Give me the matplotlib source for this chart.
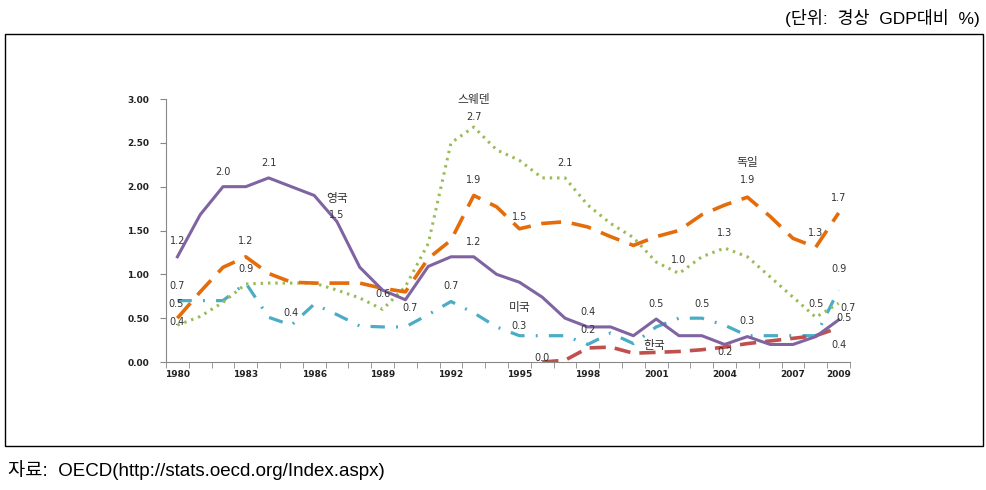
import numpy as np
import matplotlib.pyplot as plt
import matplotlib.patches as mpatches

plt.rcParams['font.family'] = ['Noto Sans CJK KR', 'DejaVu Sans']

years = list(range(1980, 2010))
uk = [1.2, 1.68, 2.0, 2.0, 2.1, 2.0, 1.9, 1.6, 1.08, 0.82, 0.71, 1.09, 1.2, 1.2, 1.0, 0.91,
      0.74, 0.5, 0.4, 0.4, 0.3, 0.49, 0.3, 0.3, 0.2, 0.29, 0.2, 0.2, 0.29, 0.48]
germany = [0.5, 0.8, 1.08, 1.2, 1.01, 0.91, 0.9, 0.9, 0.9, 0.84, 0.8, 1.18, 1.39, 1.9, 1.77, 1.52,
           1.58, 1.6, 1.54, 1.43, 1.33, 1.43, 1.5, 1.68, 1.79, 1.88, 1.66, 1.41, 1.31, 1.7]
sweden = [0.42, 0.52, 0.68, 0.89, 0.9, 0.9, 0.9, 0.82, 0.73, 0.6, 0.86, 1.35, 2.5, 2.68, 2.42, 2.3,
          2.1, 2.1, 1.79, 1.58, 1.42, 1.14, 1.01, 1.2, 1.3, 1.2, 0.97, 0.74, 0.51, 0.67]
usa = [0.7, 0.7, 0.7, 0.9, 0.51, 0.42, 0.66, 0.54, 0.41, 0.4, 0.4, 0.54, 0.69, 0.56, 0.4, 0.3,
       0.3, 0.3, 0.2, 0.33, 0.21, 0.4, 0.5, 0.5, 0.42, 0.3, 0.3, 0.3, 0.3, 0.82]
korea_years = list(range(1996, 2010))
korea = [0.0, 0.02, 0.16, 0.17, 0.1, 0.11, 0.12, 0.14, 0.17, 0.21, 0.24, 0.27, 0.3, 0.39]

tick_years = [1980, 1983, 1986, 1989, 1992, 1995, 1998, 2001, 2004, 2007, 2009]

# label text, x (year), y (value)
labels = [
    ('1.2', 1980, 1.38), ('2.0', 1982, 2.17), ('2.1', 1984, 2.27), ('1.5', 1987, 1.68),
    ('0.7', 1980, 0.87), ('0.5', 1979.95, 0.66), ('0.4', 1980, 0.46),
    ('1.2', 1983, 1.38), ('0.9', 1983, 1.06), ('0.4', 1985, 0.56),
    ('0.6', 1989, 0.78), ('0.7', 1990.2, 0.62),
    ('2.7', 1993, 2.79), ('1.9', 1993, 2.08), ('1.2', 1993, 1.37), ('0.7', 1992, 0.87),
    ('0.3', 1995, 0.41), ('1.5', 1995, 1.65), ('2.1', 1997, 2.27), ('0.0', 1996, 0.05),
    ('0.4', 1998, 0.57), ('0.2', 1998, 0.36), ('1.0', 2002, 1.16), ('0.5', 2001, 0.66),
    ('0.5', 2003, 0.66), ('1.3', 2004, 1.47), ('0.3', 2005, 0.47), ('0.2', 2004, 0.11),
    ('1.9', 2005, 2.08), ('1.3', 2008, 1.47), ('1.7', 2009, 1.87), ('0.9', 2009, 1.06),
    ('0.5', 2008, 0.66), ('0.7', 2009.4, 0.62), ('0.5', 2009.25, 0.5), ('0.4', 2009, 0.19),
]
names = [('영국', 1987, 1.87), ('스웨덴', 1993, 3.0), ('미국', 1995, 0.62),
         ('한국', 2000.9, 0.19), ('독일', 2005, 2.27)]

fig = plt.figure(figsize=(9.87, 4.90), dpi=100)
ax = fig.add_axes([166/987, 128/490, 684/987, 263/490])

ax.plot(years, usa, color='#4BACC6', lw=2.3, dashes=(4.5, 3.5, 0.6, 3.5), zorder=2)
ax.plot(korea_years, korea, color='#C0504D', lw=2.6, dashes=(4.5, 2.5), zorder=2)
ax.plot(years, sweden, color='#9BBB59', lw=2.2, linestyle=(0, (0.8, 1.6)), zorder=3)
ax.plot(years, germany, color='#E46C0A', lw=2.6, dashes=(5.5, 3), zorder=3)
ax.plot(years, uk, color='#8064A2', lw=2.2, zorder=4)

for t, x, y in labels:
    ax.text(x, y, t, ha='center', va='center', fontsize=7, color='#333333',
            family='DejaVu Sans', zorder=5)
for t, x, y in names:
    ax.text(x, y, t, ha='center', va='center', fontsize=8.5, color='#333333', zorder=5)

ax.set_xlim(1979.5, 2009.5)
ax.set_ylim(0, 3)
ax.set_yticks(np.arange(0, 3.01, 0.5))
ax.set_yticklabels(['%.2f' % v for v in np.arange(0, 3.01, 0.5)])
ax.set_xticks(tick_years)
ax.set_xticklabels([str(y) for y in tick_years])
ax.set_xticks(np.arange(1979.5, 2010, 1), minor=True)
ax.tick_params(axis='x', which='major', length=0, pad=6)
ax.tick_params(axis='x', which='minor', length=4, color='#888888')
ax.tick_params(axis='y', length=4, color='#888888', pad=8)
for lab in ax.get_xticklabels() + ax.get_yticklabels():
    lab.set_fontsize(6.5)
    lab.set_fontweight('bold')
    lab.set_family('DejaVu Sans')
    lab.set_color('#222222')
for s in ['top', 'right']:
    ax.spines[s].set_visible(False)
for s in ['left', 'bottom']:
    ax.spines[s].set_color('#888888')
ax.patch.set_alpha(0)

frame = mpatches.Rectangle((5/987, 1 - 446/490), 978/987, 412/490, transform=fig.transFigure,
                           fill=False, edgecolor='black', lw=1)
fig.patches.append(frame)

fig.text(980/987, 1 - 18/490, '(단위:  경상  GDP대비  %)', ha='right', va='center',
         fontsize=12.5, family=['Liberation Sans', 'Noto Sans CJK KR'])
fig.text(8/987, 1 - 470/490, '자료:  OECD(http://stats.oecd.org/Index.aspx)', ha='left',
         va='center', fontsize=13.5, family=['Liberation Sans', 'Noto Sans CJK KR'])

fig.savefig('out.png', dpi=100)
